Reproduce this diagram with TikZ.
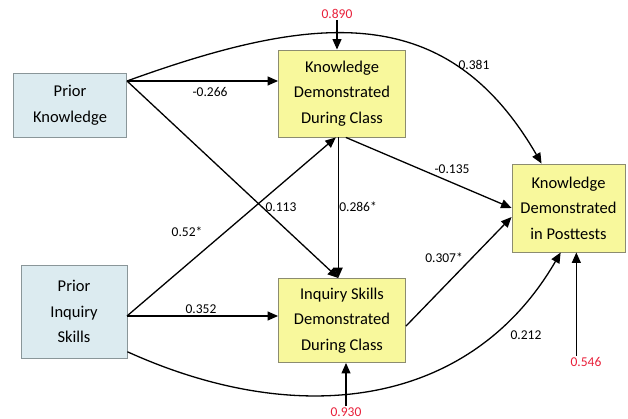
\documentclass[tikz,border=0pt]{standalone}
\usepackage{fontspec}
\setmainfont{Carlito}
\usetikzlibrary{arrows.meta,positioning,calc}
\definecolor{cPrior}{HTML}{DCEBF0}
\definecolor{cPriorLine}{HTML}{8A9699}
\definecolor{cMeasured}{HTML}{F8F89C}
\definecolor{cMeasuredLine}{HTML}{8C8C70}
\definecolor{cResid}{HTML}{E8203A}

\begin{document}
\begin{tikzpicture}[x=1pt, y=-1pt,
    box/.style={draw, line width=0.9pt, align=center, inner sep=2pt,
        font=\fontsize{16.5}{25.5}\selectfont, text=black},
    prior/.style={box, fill=cPrior, draw=cPriorLine},
    meas/.style={box, fill=cMeasured, draw=cMeasuredLine},
    coef/.style={font=\fontsize{13.5}{14}\selectfont, text=black, inner sep=1pt},
    resid/.style={coef, text=cResid},
    arr/.style={-{Triangle[length=10.5pt, width=9pt]}, line width=1.3pt, black}
]
\useasboundingbox (0,0) rectangle (628,419);

% variables
\node[prior, minimum width=113pt, minimum height=64pt] (pk) at (70,105) {Prior\\Knowledge};
\node[prior, minimum width=106pt, minimum height=93pt] (pis) at (74,311.5) {Prior\\Inquiry\\Skills};
\node[meas, minimum width=127pt, minimum height=87pt] (kddc) at (342,93.5) {Knowledge\\Demonstrated\\During Class};
\node[meas, minimum width=127pt, minimum height=84pt] (isddc) at (342,320.5) {Inquiry Skills\\Demonstrated\\During Class};
\node[meas, minimum width=113pt, minimum height=88pt] (kdp) at (568.5,208) {Knowledge\\Demonstrated\\in Posttests};

% residuals
\node[resid] (r1) at (337,14) {0.890};
\node[resid] (r2) at (346,412) {0.930};
\node[resid] (r3) at (586,362) {0.546};

\coordinate (pkout) at (127,81);
\coordinate (pisout) at (127,316);

% paths from prior knowledge
\draw[arr] (pkout) -- (pkout -| kddc.west);
\draw[arr] (pkout) -- (isddc.95);
\draw[arr] (pkout) .. controls +(188,-68) and +(-95,-164) .. ($(kdp.north west)+(30,0)$);

% paths from prior inquiry skills
\draw[arr] (pisout) -- (pisout -| isddc.west);
\draw[arr] (pisout) -- (kddc.-98);
\draw[arr] (pis.-37) .. controls +(172,78) and +(-90,155) .. (kdp.-100);

% mediators
\draw[arr] (kddc.-95) -- (kddc.-95 |- isddc.north);
\draw[arr] (kddc.-85) -- (kdp.west);
\draw[arr] (isddc.-5) -- (kdp.189);

% residual arrows
\draw[arr] (r1.south) -- (r1.south |- kddc.north);
\draw[arr] (r2.north) -- (r2.north |- isddc.south);
\draw[arr] (r3.north -| kdp.-80) -- (kdp.-80);

% coefficients
\node[coef] (c1) at (210,92) {-0.266};
\node[coef] (c2) at (281,207) {0.113};
\node[coef] (c3) at (474,65) {0.381};
\node[coef] (c4) at (358,207) {0.286*};
\node[coef] (c5) at (452,169) {-0.135};
\node[coef] (c6) at (187,232) {0.52*};
\node[coef] (c7) at (201,309) {0.352};
\node[coef] (c8) at (444,258) {0.307*};
\node[coef] (c9) at (526,335) {0.212};

\end{tikzpicture}
\end{document}
